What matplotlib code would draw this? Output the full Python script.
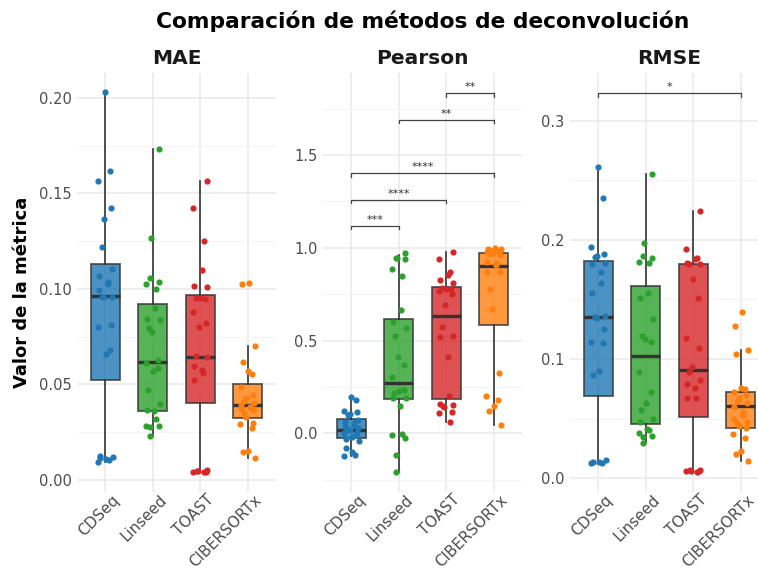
import matplotlib
matplotlib.use("Agg")
import matplotlib.pyplot as plt
from matplotlib.ticker import FormatStrFormatter, MultipleLocator
from matplotlib.transforms import ScaledTranslation
import numpy as np

metodos = ["CDSeq", "Linseed", "TOAST", "CIBERSORTx"]
colores = ["#1f77b4", "#2ca02c", "#d62728", "#ff7f0e"]

# ---- MAE ----
mae_cdseq = [0.2030, 0.1616, 0.1567, 0.1424, 0.1364, 0.1221, 0.1102, 0.1066, 0.1036, 0.1027,
             0.0992, 0.0960, 0.0959, 0.0959, 0.0812, 0.0800, 0.0678, 0.0659,
             0.0126, 0.0122, 0.0114, 0.0108, 0.0105, 0.0096]
mae_linseed = [0.1733, 0.1266, 0.1058, 0.1038, 0.1024, 0.1001, 0.0900, 0.0840, 0.0838, 0.0795,
               0.0775, 0.0629, 0.0611, 0.0585, 0.0568, 0.0472, 0.0398, 0.0367, 0.0362, 0.0321,
               0.0283, 0.0283, 0.0279, 0.0231]
mae_toast = [0.1563, 0.1424, 0.1252, 0.1099, 0.1013, 0.1010, 0.0954, 0.0950, 0.0948, 0.0879,
             0.0821, 0.0803, 0.0650, 0.0643, 0.0594, 0.0576, 0.0559, 0.0524,
             0.0052, 0.0049, 0.0047, 0.0044, 0.0041, 0.0040]
mae_cibersortx = [0.1031, 0.1025, 0.0700, 0.0620, 0.0568, 0.0555, 0.0489, 0.0445, 0.0428, 0.0414,
                  0.0405, 0.0393, 0.0384, 0.0381, 0.0376, 0.0367, 0.0349, 0.0332, 0.0300, 0.0293,
                  0.0271, 0.0154, 0.0148, 0.0117]
# cajas: q1, mediana, q3, bigote inferior, bigote superior
mae_q1 = [0.0524, 0.0363, 0.0405, 0.0323]
mae_med = [0.0961, 0.0620, 0.0646, 0.0390]
mae_q3 = [0.1132, 0.0922, 0.0968, 0.0501]
mae_wlo = [0.0096, 0.0231, 0.0040, 0.0117]
mae_whi = [0.2030, 0.1733, 0.1563, 0.0700]

# ---- Pearson ----
pearson_cdseq = [0.194, 0.180, 0.122, 0.117, 0.102, 0.099, 0.072, 0.063, 0.054, 0.045,
                 0.036, 0.027, 0.022, 0.018, 0.009, 0.000, -0.009, -0.018, -0.032, -0.040,
                 -0.077, -0.099, -0.117, -0.122]
pearson_linseed = [0.970, 0.947, 0.943, 0.939, 0.886, 0.848, 0.665, 0.602, 0.566, 0.525,
                   0.413, 0.368, 0.302, 0.234, 0.228, 0.216, 0.192, 0.189, 0.147, -0.004,
                   -0.009, -0.027, -0.117, -0.207]
pearson_toast = [0.979, 0.938, 0.871, 0.853, 0.826, 0.808, 0.781, 0.780, 0.776, 0.769,
                 0.751, 0.692, 0.575, 0.525, 0.517, 0.413, 0.201, 0.158, 0.153, 0.147,
                 0.144, 0.113, 0.111, 0.059]
pearson_cibersortx = [0.997, 0.995, 0.993, 0.990, 0.988, 0.984, 0.980, 0.979, 0.974, 0.966,
                      0.960, 0.925, 0.916, 0.907, 0.871, 0.868, 0.778, 0.668, 0.323, 0.201,
                      0.180, 0.149, 0.120, 0.045]
pearson_q1 = [-0.023, 0.183, 0.185, 0.582]
pearson_med = [0.018, 0.269, 0.632, 0.902]
pearson_q3 = [0.077, 0.618, 0.790, 0.970]
pearson_wlo = [-0.122, -0.207, 0.059, 0.045]
pearson_whi = [0.194, 0.960, 0.979, 0.997]

# ---- RMSE ----
rmse_cdseq = [0.2614, 0.2351, 0.1943, 0.1881, 0.1867, 0.1859, 0.1809, 0.1800, 0.1733, 0.1641,
              0.1557, 0.1361, 0.1350, 0.1345, 0.1252, 0.1146, 0.1138, 0.0903, 0.0867,
              0.0154, 0.0140, 0.0137, 0.0131, 0.0126]
rmse_linseed = [0.2550, 0.1974, 0.1867, 0.1851, 0.1817, 0.1803, 0.1557, 0.1510, 0.1339, 0.1197,
                0.1171, 0.1146, 0.0892, 0.0727, 0.0629, 0.0573, 0.0495, 0.0475, 0.0411, 0.0405,
                0.0377, 0.0355, 0.0349, 0.0299]
rmse_toast = [0.2245, 0.1923, 0.1845, 0.1837, 0.1803, 0.1800, 0.1795, 0.1672, 0.1515, 0.1180,
              0.1096, 0.0937, 0.0889, 0.0825, 0.0791, 0.0755, 0.0677, 0.0671,
              0.0070, 0.0066, 0.0064, 0.0060, 0.0058, 0.0056]
rmse_cibersortx = [0.1392, 0.1278, 0.1076, 0.1040, 0.0760, 0.0746, 0.0727, 0.0699, 0.0671, 0.0651,
                   0.0629, 0.0601, 0.0559, 0.0531, 0.0495, 0.0475, 0.0461, 0.0439, 0.0419, 0.0369,
                   0.0341, 0.0232, 0.0204, 0.0148]
rmse_q1 = [0.0688, 0.0456, 0.0517, 0.0425]
rmse_med = [0.1353, 0.1023, 0.0909, 0.0607]
rmse_q3 = [0.1823, 0.1616, 0.1795, 0.0727]
rmse_wlo = [0.0126, 0.0299, 0.0056, 0.0148]
rmse_whi = [0.2614, 0.2550, 0.2245, 0.1076]

# comparaciones significativas: (grupo1, grupo2, altura, etiqueta)
pearson_sig = [("CDSeq", "Linseed", 1.117, "***"),
               ("CDSeq", "TOAST", 1.257, "****"),
               ("CDSeq", "CIBERSORTx", 1.401, "****"),
               ("Linseed", "CIBERSORTx", 1.689, "**"),
               ("TOAST", "CIBERSORTx", 1.832, "**")]
rmse_sig = [("CDSeq", "CIBERSORTx", 0.323, "*")]

paneles = [
    ("MAE", [mae_cdseq, mae_linseed, mae_toast, mae_cibersortx],
     (mae_q1, mae_med, mae_q3, mae_wlo, mae_whi), [], (-0.0063, 0.213), 0.05, "%.2f"),
    ("Pearson", [pearson_cdseq, pearson_linseed, pearson_toast, pearson_cibersortx],
     (pearson_q1, pearson_med, pearson_q3, pearson_wlo, pearson_whi), pearson_sig, (-0.316, 1.942), 0.5, "%.1f"),
    ("RMSE", [rmse_cdseq, rmse_linseed, rmse_toast, rmse_cibersortx],
     (rmse_q1, rmse_med, rmse_q3, rmse_wlo, rmse_whi), rmse_sig, (-0.0115, 0.34), 0.1, "%.1f"),
]

W, H = 758, 572
fig = plt.figure(figsize=(W / 100, H / 100), dpi=100)

lefts = [77, 323, 570]
pw, top, bot = 199, 73, 492
xpos = np.arange(1, 5)

for (nombre, datos, cajas, sig, ylim, paso, fmt), lx in zip(paneles, lefts):
    ax = fig.add_axes([lx / W, (H - bot) / H, pw / W, (bot - top) / H])
    q1, med, q3, wlo, whi = cajas
    stats = [dict(q1=q1[i], med=med[i], q3=q3[i], whislo=wlo[i], whishi=whi[i], fliers=[])
             for i in range(4)]
    bp = ax.bxp(stats, positions=xpos, widths=0.62, patch_artist=True, showcaps=False,
                showfliers=False,
                boxprops=dict(edgecolor="#333333", linewidth=1.3),
                whiskerprops=dict(color="#333333", linewidth=1.2),
                medianprops=dict(color="#333333", linewidth=2.4))
    for patch, c in zip(bp["boxes"], colores):
        patch.set_facecolor(c)
        patch.set_alpha(0.8)
        patch.set_zorder(2)
    for i, (vals, c) in enumerate(zip(datos, colores)):
        n = len(vals)
        jit = 0.15 * np.sin(np.arange(n) * 2.39996 + i)
        ax.scatter(xpos[i] + jit, vals, s=20, color=c, zorder=3, linewidths=0)

    # brackets de significancia
    rango = ylim[1] - ylim[0]
    for g1, g2, yb, lab in sig:
        x1 = metodos.index(g1) + 1
        x2 = metodos.index(g2) + 1
        tip = rango * 0.008
        ax.plot([x1, x1, x2, x2], [yb - tip, yb, yb, yb - tip], color="#444444", lw=0.9, zorder=4)
        ax.text((x1 + x2) / 2, yb + rango * 0.003, lab, ha="center", va="bottom",
                fontsize=8, color="#333333")

    ax.set_xlim(0.4, 4.6)
    ax.set_ylim(*ylim)
    ax.yaxis.set_major_locator(MultipleLocator(paso))
    ax.yaxis.set_minor_locator(MultipleLocator(paso / 2))
    ax.yaxis.set_major_formatter(FormatStrFormatter(fmt))
    ax.set_xticks(xpos)
    ax.set_xticklabels(metodos, rotation=45, ha="right", rotation_mode="anchor")
    ax.tick_params(axis="both", which="both", length=0, labelsize=10.5, labelcolor="#4d4d4d", pad=4)
    ax.tick_params(axis="x", pad=0, labelsize=10.9)
    desplaza = ScaledTranslation(6 / 100, 0, fig.dpi_scale_trans)
    for lbl in ax.get_xticklabels():
        lbl.set_transform(lbl.get_transform() + desplaza)
    ax.grid(True, which="major", color="#ebebeb", lw=1.2)
    ax.grid(True, which="minor", axis="y", color="#f4f4f4", lw=0.8)
    ax.set_axisbelow(True)
    for s in ax.spines.values():
        s.set_visible(False)
    fig.text((lx + pw / 2) / W, 1 - 58 / H, nombre, ha="center", va="center",
             fontsize=14.5, fontweight="bold", color="#1a1a1a")

fig.text(423 / W, 1 - 21 / H, "Comparación de métodos de deconvolución", ha="center", va="center",
         fontsize=15.7, fontweight="bold", color="black")
fig.text(22 / W, 280 / H, "Valor de la métrica", rotation=90, ha="center", va="center",
         fontsize=13, fontweight="bold", color="black")

fig.savefig("out.png", dpi=100)
